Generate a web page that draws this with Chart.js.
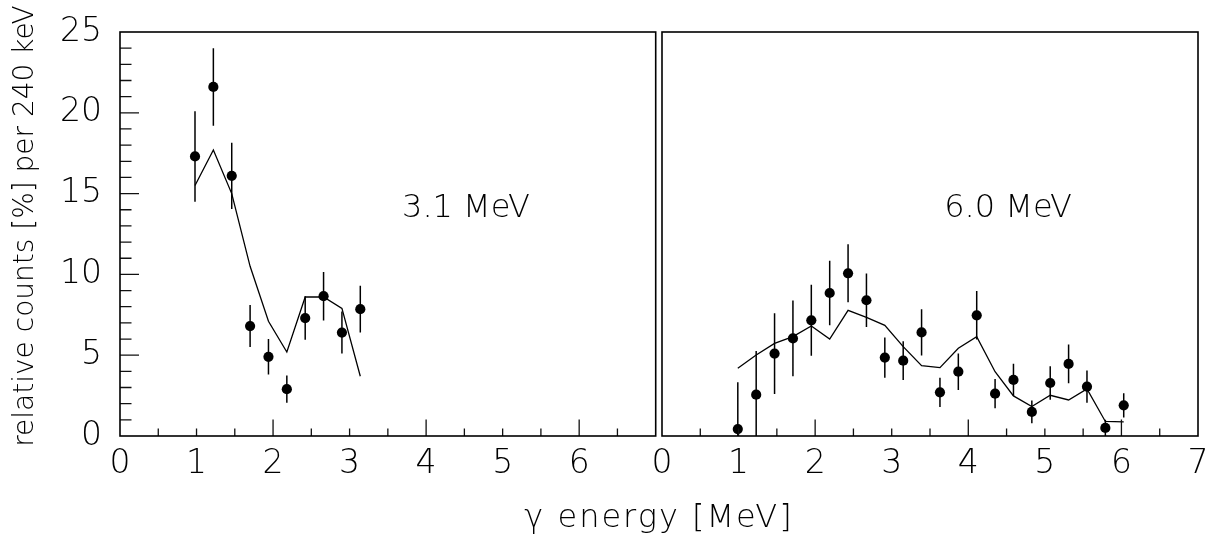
<!DOCTYPE html>
<html lang="en">
<head>
    <meta charset="UTF-8">
    <title>relative counts per 240 keV</title>
    <script src="https://cdn.jsdelivr.net/npm/chart.js"></script>
    <style>
        body { margin: 0; background: #fff; }
        #wrap { position: relative; width: 1212px; height: 542px; overflow: hidden; }
        canvas { position: absolute; top: 0; }
        #leftChart { left: 0; }
        #rightChart { left: 640px; }
        .axisTitle {
            position: absolute; white-space: nowrap; text-align: center; color: #000;
            font-family: "DejaVu Sans", sans-serif; font-weight: 200;
        }
        #xTitle { left: 409px; width: 500px; top: 500px; font-size: 32px; line-height: 32px; letter-spacing: 2px; }
        #yTitle { left: -226px; width: 500px; top: 212px; font-size: 28px; line-height: 28px; transform: rotate(-90deg); }
    </style>
</head>
<body>
<div id="wrap">
    <canvas id="leftChart" width="1212" height="542"></canvas>
    <canvas id="rightChart" width="572" height="542"></canvas>
    <div class="axisTitle" id="yTitle">relative counts [%] per 240 keV</div>
    <div class="axisTitle" id="xTitle">γ energy [MeV]</div>
</div>

<script>
    // 3.1 MeV panel
    const energyLeft = [0.98, 1.22, 1.46, 1.70, 1.94, 2.18, 2.42, 2.66, 2.90, 3.14];
    const countsLeft = [17.3, 21.6, 16.1, 6.8, 4.9, 2.9, 7.3, 8.65, 6.4, 7.85];
    const errorsLeft = [2.8, 2.4, 2.05, 1.3, 1.1, 0.85, 1.35, 1.5, 1.3, 1.45];
    const simLeft = [15.5, 17.7, 15.0, 10.5, 7.1, 5.2, 8.6, 8.6, 7.9, 3.7];

    // 6.0 MeV panel
    const energyRight = [0.99, 1.23, 1.47, 1.71, 1.95, 2.19, 2.43, 2.67, 2.91, 3.15, 3.39,
        3.63, 3.87, 4.11, 4.35, 4.59, 4.83, 5.07, 5.31, 5.55, 5.79, 6.03];
    const countsRight = [0.43, 2.56, 5.1, 6.04, 7.16, 8.85, 10.07, 8.4, 4.85, 4.66, 6.41,
        2.7, 3.98, 7.47, 2.62, 3.47, 1.49, 3.28, 4.46, 3.05, 0.5, 1.9];
    const errorsRight = [2.9, 2.7, 2.5, 2.35, 2.2, 2.0, 1.8, 1.65, 1.25, 1.2, 1.43,
        0.9, 1.13, 1.5, 0.9, 1.0, 0.7, 1.03, 1.2, 1.0, 0.5, 0.75];
    const simRight = [4.19, 5.01, 5.73, 6.15, 6.81, 6.0, 7.78, 7.34, 6.85, 5.53, 4.35,
        4.23, 5.43, 6.15, 3.98, 2.48, 1.82, 2.52, 2.23, 2.91, 0.9, 0.88];

    const xTicksLeft = [0, 1, 2, 3, 4, 5, 6];
    const xTicksRight = [0, 1, 2, 3, 4, 5, 6, 7];
    const yTicks = [0, 5, 10, 15, 20, 25];

    const FONT = 'DejaVu Sans';

    // vertical error bar segments, broken by null points
    function errorSegments(xs, ys, es) {
        const pts = [];
        xs.forEach((x, i) => {
            pts.push({x: x, y: ys[i] - es[i]}, {x: x, y: ys[i] + es[i]}, {x: x, y: null});
        });
        return pts;
    }

    function toPoints(xs, ys) {
        return xs.map((x, i) => ({x: x, y: ys[i]}));
    }

    // frame, inward ticks and panel label
    const frameAndTicks = {
        id: 'frameAndTicks',
        afterDatasetsDraw(chart, args, opts) {
            const {ctx, chartArea: a, scales: {x, y}} = chart;
            ctx.save();
            ctx.strokeStyle = '#111';
            ctx.lineWidth = 1.3;
            ctx.beginPath();
            for (let v = x.min + 0.5; v < x.max; v += 0.5) {
                const px = x.getPixelForValue(v);
                const len = v % 2 === 0 ? 16.5 : 7.5;
                ctx.moveTo(px, a.bottom);
                ctx.lineTo(px, a.bottom - len);
            }
            if (opts.yTicks) {
                for (let v = y.min + 1; v < y.max; v++) {
                    const py = y.getPixelForValue(v);
                    const len = v % 5 === 0 ? 19 : 11.5;
                    ctx.moveTo(a.left, py);
                    ctx.lineTo(a.left + len, py);
                }
            }
            ctx.stroke();
            ctx.lineWidth = 1.6;
            ctx.strokeStyle = '#000';
            ctx.strokeRect(a.left, a.top, a.right - a.left, a.bottom - a.top);

            ctx.font = '200 32px "' + FONT + '"';
            ctx.fillStyle = '#000';
            ctx.textAlign = 'center';
            ctx.textBaseline = 'alphabetic';
            ctx.fillText(opts.text, x.getPixelForValue(opts.textX), y.getPixelForValue(opts.textY));
            ctx.restore();
        }
    };

    function makePanel(id, energy, counts, errors, sim, xTicks, cfg) {
        const ctx = document.getElementById(id).getContext('2d');
        return new Chart(ctx, {
            type: 'scatter',
            data: {
                datasets: [{
                    type: 'scatter',
                    data: toPoints(energy, counts),
                    pointRadius: 5.1,
                    pointHoverRadius: 5.1,
                    backgroundColor: '#000',
                    borderColor: '#000',
                    borderWidth: 0
                }, {
                    type: 'line',
                    data: errorSegments(energy, counts, errors),
                    borderColor: '#000',
                    borderWidth: 1.5,
                    pointRadius: 0,
                    spanGaps: false,
                    fill: false
                }, {
                    type: 'line',
                    data: toPoints(energy, sim),
                    borderColor: '#000',
                    borderWidth: 1.3,
                    pointRadius: 0,
                    tension: 0,
                    fill: false
                }]
            },
            options: {
                responsive: false,
                animation: false,
                events: [],
                layout: {padding: cfg.padding},
                plugins: {
                    legend: {display: false},
                    tooltip: {enabled: false},
                    frameAndTicks: {text: cfg.text, textX: 4.52, textY: 13.57, yTicks: cfg.showY}
                },
                scales: {
                    x: {
                        type: 'linear',
                        min: 0,
                        max: 7,
                        grid: {display: false, drawTicks: false},
                        border: {display: false},
                        afterBuildTicks: s => { s.ticks = xTicks.map(v => ({value: v})); },
                        afterFit: s => {
                            s.height = 106;
                            s.paddingLeft = 0;
                            s.paddingRight = 0;
                        },
                        ticks: {
                            autoSkip: false,
                            maxRotation: 0,
                            padding: 9,
                            color: '#000',
                            font: {family: FONT, size: 33, weight: 200}
                        }
                    },
                    y: {
                        type: 'linear',
                        min: 0,
                        max: 25,
                        display: cfg.showY,
                        grid: {display: false, drawTicks: false},
                        border: {display: false},
                        afterBuildTicks: s => { s.ticks = yTicks.map(v => ({value: v})); },
                        afterFit: s => {
                            s.width = cfg.showY ? 120 : 0;
                            s.paddingTop = 0;
                            s.paddingBottom = 0;
                        },
                        ticks: {
                            padding: 18,
                            color: '#000',
                            font: {family: FONT, size: 33, weight: 200}
                        }
                    }
                }
            },
            plugins: [frameAndTicks]
        });
    }

    makePanel('leftChart', energyLeft, countsLeft, errorsLeft, simLeft, xTicksLeft, {
        text: '3.1 MeV',
        showY: true,
        padding: {left: 0, top: 32, right: 556.3, bottom: 0}
    });

    makePanel('rightChart', energyRight, countsRight, errorsRight, simRight, xTicksRight, {
        text: '6.0 MeV',
        showY: false,
        padding: {left: 22, top: 32, right: 14, bottom: 0}
    });
</script>
</body>
</html>
